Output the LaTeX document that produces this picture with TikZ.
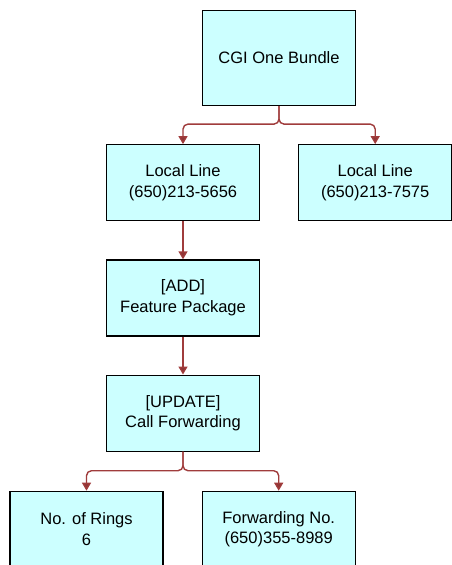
\documentclass[tikz,border=0pt]{standalone}
\usepackage{fontspec}
\setmainfont{Liberation Sans}
\usetikzlibrary{positioning,arrows.meta}
\definecolor{boxfill}{HTML}{CCFFFF}
\definecolor{linkred}{HTML}{A03C3C}
\tikzset{item/.style={draw=black,line width=1.2pt,fill=boxfill,minimum width=153pt,minimum height=76pt,align=center,inner sep=0pt,font=\fontsize{16.5}{20.5}\selectfont},
  link/.style={draw=linkred,line width=1.4pt,rounded corners=5pt,-{Triangle[width=9pt,length=8pt,fill=linkred!90!black]}}}
\begin{document}
\begin{tikzpicture}
      \clip (0,0) rectangle (452pt,-565pt);
      \fill[white] (0,0) rectangle (452pt,-565pt);
      \node[item,minimum height=95pt] (bundle) at (279pt,-58pt) {CGI One Bundle};
      \node[item,below=38pt of bundle,xshift=-96pt] (lineA) {Local Line\\(650)213-5656};
      \node[item,right=38pt of lineA] (lineB) {Local Line\\(650)213-7575};
      \node[item,below=38pt of lineA] (feature) {[ADD]\\Feature Package};
      \node[item,below=38pt of feature] (callfwd) {[UPDATE]\\Call Forwarding};
      \node[item,below=39pt of callfwd,xshift=-96.5pt] (rings) {No. of Rings\\6};
      \node[item,right=38pt of rings] (fwdno) {Forwarding No.\\(650)355-8989};
      \draw[link] (bundle.south)--++(0,-18pt)-|(lineA.north);\draw[link] (bundle.south)--++(0,-18pt)-|(lineB.north);
      \draw[link] (lineA)--(feature);\draw[link] (feature)--(callfwd);
      \draw[link] (callfwd.south)--++(0,-19pt)-|(rings.north);\draw[link] (callfwd.south)--++(0,-19pt)-|(fwdno.north);
     \end{tikzpicture}
\end{document}
